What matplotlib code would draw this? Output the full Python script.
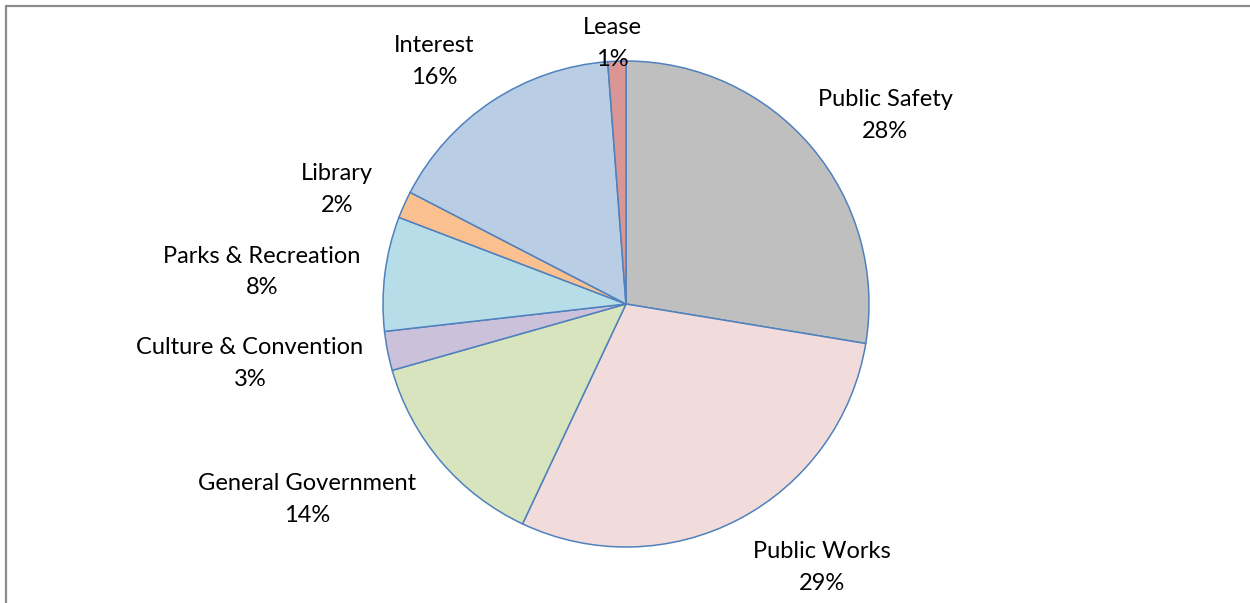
import matplotlib
matplotlib.use("Agg")
import matplotlib.pyplot as plt
from matplotlib.patches import Rectangle

# Expenditure shares by function (percent), clockwise from 12 o'clock
categories = ["Public Safety", "Public Works", "General Government",
              "Culture & Convention", "Parks & Recreation", "Library",
              "Interest", "Lease"]
shares = [27.6, 29.4, 13.6, 2.6, 7.6, 1.8, 16.2, 1.2]

colors = ["#BFBFBF", "#F2DCDB", "#D7E4BD", "#CCC1DA",
          "#B7DEE8", "#FAC090", "#B9CDE5", "#D99694"]

# label centres in pixel space (x, y of name line; percentage sits one line below)
label_pos = [(885, 99), (822, 551), (307, 484), (250, 347),
             (262, 256), (337, 173), (434, 46), (612, 28)]

W, H = 1250, 603
fig = plt.figure(figsize=(W / 100, H / 100), dpi=100)
fig.patch.set_facecolor("white")

# outer chart-area frame (left and top edges visible)
fig.add_artist(Rectangle((6 / W, -0.1), 1.2, (H - 6) / H + 0.1,
                         transform=fig.transFigure, fill=False,
                         edgecolor="#8C8C8C", linewidth=1.6))

cx, cy, r = 626, 304, 243
ax = fig.add_axes([(cx - r) / W, (H - cy - r) / H, 2 * r / W, 2 * r / H])
ax.pie(shares, colors=colors, startangle=90, counterclock=False,
       wedgeprops=dict(edgecolor="#4F81BD", linewidth=1.1))
ax.set_xlim(-1, 1)
ax.set_ylim(-1, 1)
ax.set_aspect("auto")
ax.axis("off")

font = "Lato"
for name, val, (x, y) in zip(categories, shares, label_pos):
    fig.text(x / W, 1 - y / H, name, ha="center", va="center",
             fontsize=17, family=font, color="black")
    fig.text(x / W, 1 - (y + 32) / H, f"{round(val):d}%", ha="center",
             va="center", fontsize=17, family=font, color="black")

fig.savefig("out.png", dpi=100, facecolor="white")
